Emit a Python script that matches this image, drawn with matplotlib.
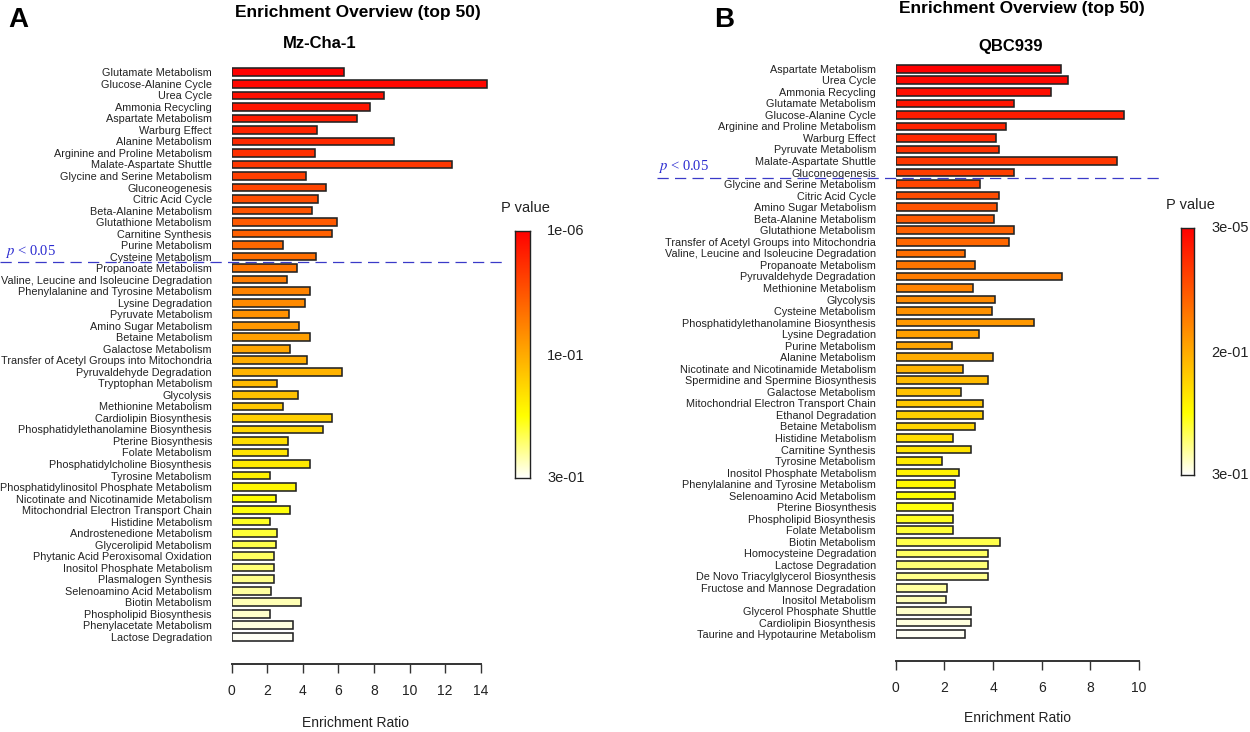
import matplotlib
matplotlib.use("Agg")
import matplotlib.pyplot as plt
import numpy as np
import colorsys
from matplotlib import transforms
from matplotlib.lines import Line2D
from matplotlib.colors import ListedColormap

plt.rcParams['font.family'] = ['Liberation Sans', 'DejaVu Sans']
plt.rcParams['mathtext.fontset'] = 'stix'

# ---------------- data ----------------
labels_a = [
    "Glutamate Metabolism", "Glucose-Alanine Cycle", "Urea Cycle", "Ammonia Recycling",
    "Aspartate Metabolism", "Warburg Effect", "Alanine Metabolism",
    "Arginine and Proline Metabolism", "Malate-Aspartate Shuttle",
    "Glycine and Serine Metabolism", "Gluconeogenesis", "Citric Acid Cycle",
    "Beta-Alanine Metabolism", "Glutathione Metabolism", "Carnitine Synthesis",
    "Purine Metabolism", "Cysteine Metabolism", "Propanoate Metabolism",
    "Valine, Leucine and Isoleucine Degradation", "Phenylalanine and Tyrosine Metabolism",
    "Lysine Degradation", "Pyruvate Metabolism", "Amino Sugar Metabolism",
    "Betaine Metabolism", "Galactose Metabolism",
    "Transfer of Acetyl Groups into Mitochondria", "Pyruvaldehyde Degradation",
    "Tryptophan Metabolism", "Glycolysis", "Methionine Metabolism",
    "Cardiolipin Biosynthesis", "Phosphatidylethanolamine Biosynthesis",
    "Pterine Biosynthesis", "Folate Metabolism", "Phosphatidylcholine Biosynthesis",
    "Tyrosine Metabolism", "Phosphatidylinositol Phosphate Metabolism",
    "Nicotinate and Nicotinamide Metabolism", "Mitochondrial Electron Transport Chain",
    "Histidine Metabolism", "Androstenedione Metabolism", "Glycerolipid Metabolism",
    "Phytanic Acid Peroxisomal Oxidation", "Inositol Phosphate Metabolism",
    "Plasmalogen Synthesis", "Selenoamino Acid Metabolism", "Biotin Metabolism",
    "Phospholipid Biosynthesis", "Phenylacetate Metabolism", "Lactose Degradation",
]
values_a = [
    6.31, 14.33, 8.54, 7.76, 7.06, 4.81, 9.12, 4.66, 12.40, 4.18,
    5.32, 4.83, 4.53, 5.90, 5.62, 2.90, 4.74, 3.69, 3.09, 4.42,
    4.12, 3.20, 3.77, 4.42, 3.26, 4.21, 6.20, 2.56, 3.71, 2.87,
    5.64, 5.15, 3.18, 3.18, 4.42, 2.15, 3.63, 2.51, 3.26, 2.15,
    2.56, 2.47, 2.38, 2.38, 2.38, 2.19, 3.88, 2.13, 3.45, 3.45,
]

labels_b = [
    "Aspartate Metabolism", "Urea Cycle", "Ammonia Recycling", "Glutamate Metabolism",
    "Glucose-Alanine Cycle", "Arginine and Proline Metabolism", "Warburg Effect",
    "Pyruvate Metabolism", "Malate-Aspartate Shuttle", "Gluconeogenesis",
    "Glycine and Serine Metabolism", "Citric Acid Cycle", "Amino Sugar Metabolism",
    "Beta-Alanine Metabolism", "Glutathione Metabolism",
    "Transfer of Acetyl Groups into Mitochondria",
    "Valine, Leucine and Isoleucine Degradation", "Propanoate Metabolism",
    "Pyruvaldehyde Degradation", "Methionine Metabolism", "Glycolysis",
    "Cysteine Metabolism", "Phosphatidylethanolamine Biosynthesis", "Lysine Degradation",
    "Purine Metabolism", "Alanine Metabolism", "Nicotinate and Nicotinamide Metabolism",
    "Spermidine and Spermine Biosynthesis", "Galactose Metabolism",
    "Mitochondrial Electron Transport Chain", "Ethanol Degradation", "Betaine Metabolism",
    "Histidine Metabolism", "Carnitine Synthesis", "Tyrosine Metabolism",
    "Inositol Phosphate Metabolism", "Phenylalanine and Tyrosine Metabolism",
    "Selenoamino Acid Metabolism", "Pterine Biosynthesis", "Phospholipid Biosynthesis",
    "Folate Metabolism", "Biotin Metabolism", "Homocysteine Degradation",
    "Lactose Degradation", "De Novo Triacylglycerol Biosynthesis",
    "Fructose and Mannose Degradation", "Inositol Metabolism",
    "Glycerol Phosphate Shuttle", "Cardiolipin Biosynthesis",
    "Taurine and Hypotaurine Metabolism",
]
values_b = [
    6.81, 7.07, 6.40, 4.86, 9.40, 4.52, 4.12, 4.26, 9.10, 4.85,
    3.46, 4.26, 4.15, 4.03, 4.88, 4.64, 2.85, 3.25, 6.84, 3.18,
    4.09, 3.94, 5.70, 3.41, 2.30, 4.01, 2.78, 3.81, 2.70, 3.59,
    3.59, 3.25, 2.37, 3.11, 1.89, 2.61, 2.44, 2.44, 2.36, 2.36,
    2.36, 4.27, 3.79, 3.79, 3.79, 2.12, 2.07, 3.11, 3.11, 2.85,
]

xticks_a = [0, 2, 4, 6, 8, 10, 12, 14]
xticks_b = [0, 2, 4, 6, 8, 10]
cbar_labels_a = ["1e-06", "1e-01", "3e-01"]
cbar_labels_b = ["3e-05", "2e-01", "3e-01"]
sig_cut_a = 16.5   # p < 0.05 line position (between bars)
sig_cut_b = 9.5

title_main = "Enrichment Overview (top 50)"
subtitle_a = "Mz-Cha-1"
subtitle_b = "QBC939"
xlabel = "Enrichment Ratio"

# ---------------- helpers ----------------
W, H = 1250, 732
fig = plt.figure(figsize=(12.5, 7.32), dpi=100)


def heat_colors(n):
    """R's heat.colors(n)"""
    j = n // 4
    i = n - j
    cols = []
    for k in range(i):
        h = (k / (i - 1)) * (1 / 6) if i > 1 else 0
        cols.append(colorsys.hsv_to_rgb(h, 1, 1))
    if j > 0:
        for sv in np.linspace(1 - 1 / (2 * j), 1 / (2 * j), j):
            cols.append(colorsys.hsv_to_rgb(1 / 6, sv, 1))
    return cols


def px_axes(left, top, right, bottom):
    return fig.add_axes([left / W, 1 - bottom / H, (right - left) / W, (bottom - top) / H])


def fx(x):
    return x / W


def fy(y):
    return 1 - y / H


def panel(x0, scale, xmax, c0, step, labels, vals, ticks):
    n = len(labels)
    top = c0 - 0.6 * step
    bottom = c0 + (n - 1 + 0.6) * step
    ax = px_axes(x0, top, x0 + xmax * scale, bottom)
    y = np.arange(n)
    ax.barh(y, vals, height=0.66, color=heat_colors(n), edgecolor='#222222', linewidth=1.15)
    ax.set_xlim(0, xmax)
    ax.set_ylim(n - 1 + 0.6, -0.6)
    ax.set_yticks(y)
    ax.set_yticklabels(labels, fontsize=7.8, color='#222222')
    ax.tick_params(axis='y', length=0, pad=14.2)
    for s in ('left', 'top', 'right'):
        ax.spines[s].set_visible(False)
    ax.spines['bottom'].set_position(('outward', 14.3))
    ax.spines['bottom'].set_bounds(ticks[0], ticks[-1])
    ax.spines['bottom'].set_linewidth(1.4)
    ax.spines['bottom'].set_color('#333333')
    ax.set_xticks(ticks)
    ax.set_xticklabels([str(t) for t in ticks], fontsize=10, color='#222222')
    ax.tick_params(axis='x', length=6.5, width=1.0, color='#333333', pad=8)
    ax.patch.set_alpha(0)
    return ax


def sig_line(ax, ycut, xs_px, xe_px, text_x_px):
    tr = transforms.blended_transform_factory(fig.transFigure, ax.transData)
    ln = Line2D([fx(xs_px), fx(xe_px)], [ycut, ycut], transform=tr, color='#3a3ac8',
                lw=0.9, linestyle=(0, (9, 5)), clip_on=False)
    fig.add_artist(ln)
    fig.text(fx(text_x_px), ycut - 0.25, "$p$ < 0.05", transform=tr, fontsize=10.5,
             family='Liberation Serif', color='#2b2bd0', va='bottom', ha='left')


def colorbar(left, top, right, bottom, labels, title):
    cax = px_axes(left, top, right, bottom)
    grad = np.linspace(0, 1, 256).reshape(-1, 1)
    cmap = ListedColormap(heat_colors(256))
    cax.imshow(grad, aspect='auto', cmap=cmap, extent=[0, 1, 1, 0])
    cax.set_xticks([])
    cax.set_yticks([])
    for s in cax.spines.values():
        s.set_linewidth(1.0)
        s.set_color('#222222')
    xs = right + 17
    fig.text(fx(xs), fy(top), labels[0], fontsize=10.5, va='center', ha='left', color='#222222')
    fig.text(fx(xs), fy((top + bottom) / 2 + 2), labels[1], fontsize=10.5, va='center', ha='left',
             color='#222222')
    fig.text(fx(xs), fy(bottom), labels[2], fontsize=10.5, va='center', ha='left', color='#222222')
    fig.text(fx((left + right) / 2 + 3), fy(top - 23), title, fontsize=10.5, va='center',
             ha='center', color='#222222')


# ---------------- panel A ----------------
axA = panel(231.7, 17.79, 15.0, 72.3, 11.52, labels_a, values_a, xticks_a)
sig_line(axA, sig_cut_a, 0, 502, 5)
colorbar(515, 230.7, 530, 478, cbar_labels_a, "P value")
fig.text(fx(356), fy(723), xlabel, fontsize=10, ha='center', va='center', color='#222222')
fig.text(fx(358), fy(12), title_main, fontsize=12.5, fontweight='bold', ha='center', va='center')
fig.text(fx(320), fy(43), subtitle_a, fontsize=12, fontweight='bold', ha='center', va='center')
fig.text(fx(18), fy(20), "A", fontsize=20, fontweight='bold', ha='center', va='center')

# ---------------- panel B ----------------
axB = panel(895.7, 24.33, 11.0, 68.7, 11.54, labels_b, values_b, xticks_b)
sig_line(axB, sig_cut_b, 657, 1160, 658)
colorbar(1180.7, 227.7, 1194.3, 475, cbar_labels_b, "P value")
fig.text(fx(1017), fy(718), xlabel, fontsize=10, ha='center', va='center', color='#222222')
fig.text(fx(1022), fy(9), title_main, fontsize=12.5, fontweight='bold', ha='center', va='center')
fig.text(fx(1011), fy(46), subtitle_b, fontsize=12, fontweight='bold', ha='center', va='center')
fig.text(fx(724), fy(20), "B", fontsize=20, fontweight='bold', ha='center', va='center')

fig.savefig("out.png", dpi=100)
